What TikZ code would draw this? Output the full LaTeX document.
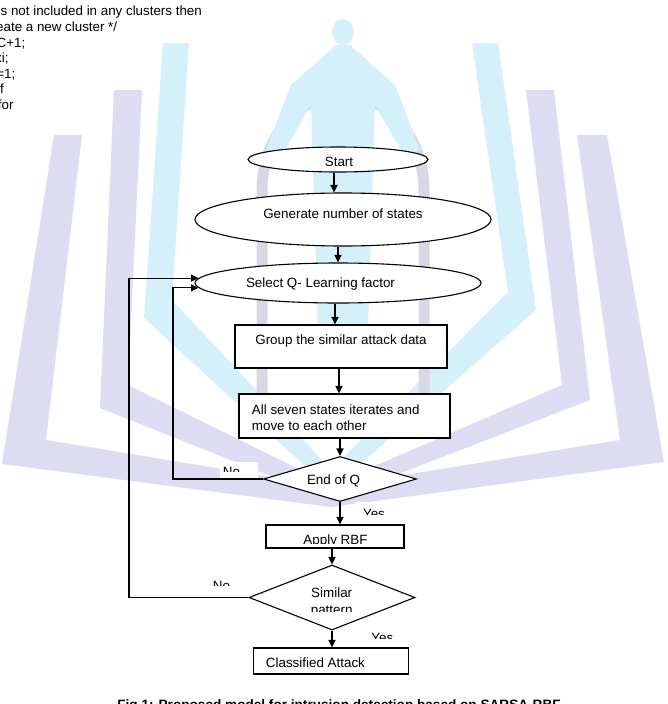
\documentclass[tikz,border=0pt]{standalone}
\usepackage{fontspec}
\setmainfont{Liberation Sans}
\usetikzlibrary{shapes.geometric,arrows.meta}
\definecolor{lav}{RGB}{220,220,243}
\definecolor{cyn}{RGB}{212,240,251}
\definecolor{archc}{RGB}{216,216,228}
\tikzset{
  fc/.style={draw=black, fill=white, line width=1.1pt, inner sep=0pt},
  ell/.style={fc, ellipse},
  box/.style={fc, rectangle},
  dia/.style={fc, diamond},
  arr/.style={draw=black, line width=1.1pt, -{Triangle[length=7.5pt,width=7pt]}},
  lbl/.style={inner sep=0pt, anchor=base, font=\fontsize{13.4}{16}\selectfont},
  lblw/.style={lbl, anchor=base west},
  tl/.style={inner sep=0pt, anchor=base west, font=\fontsize{13.35}{15.5}\selectfont},
}
\begin{document}
\begin{tikzpicture}[x=1pt,y=-1pt]
\useasboundingbox (0,0) rectangle (668,704);
\clip (0,0) rectangle (668,704);
\fill[white] (0,0) rectangle (668,704);
% ---------- watermark ----------
% cyan inner bands
\fill[cyn] (163,43) -- (189,43) -- (172,300) -- (331,470) -- (331,490) -- (144,318) -- cycle;
\fill[cyn] (472,43) -- (498,43) -- (536,310) -- (331,490) -- (331,470) -- (508,292) -- cycle;
% second (purple) bands
\fill[lav] (114,90) -- (142,90) -- (128,385) -- (331,485) -- (331,500) -- (100,408) -- cycle;
\fill[lav] (526,90) -- (554,90) -- (590,400) -- (331,500) -- (331,485) -- (562,385) -- cycle;
% outer (purple) bands
\fill[lav] (54,135) -- (82,135) -- (46,440) -- (331,487) -- (331,507) -- (2,464) -- cycle;
\fill[lav] (577,135) -- (607,135) -- (664,462) -- (331,507) -- (331,487) -- (620,440) -- cycle;
% arch and figure
\draw[archc, line width=11pt] (262,430) -- (262,190) arc[start angle=180, end angle=0, x radius=81pt, y radius=95pt] -- (424,430);
\fill[cyn] (343,32) ellipse[x radius=11pt, y radius=13pt];
\fill[cyn] (336,45) -- (350,45) -- (395,85) -- (420,150) -- (405,157) -- (375,105) -- (368,330) -- (318,330) -- (311,105) -- (281,157) -- (266,150) -- (291,85) -- cycle;
% white label backgrounds
\fill[white] (220,462) rectangle (258,479.3);
\fill[white] (356,502) rectangle (398,518);
% ---------- top-left text fragments ----------
\node[tl] (t0) at (0,0.5) {r.};
\node[tl] (t1) at (0.5,16) {s not included in any clusters then};
\node[tl] (t2) at (-4,31.5) {eate a new cluster */};
\node[tl] (t3) at (-3.5,47) {C+1;};
\node[tl] (t4) at (-5,62.5) {xi;};
\node[tl] (t5) at (-3.9,78) {=1;};
\node[tl] (t6) at (0,93.5) {f};
\node[tl] (t7) at (-2.3,109) {for};
% ---------- flowchart shapes ----------
\node[ell, minimum width=180pt, minimum height=25pt] (start) at (338,159.5) {};
\node[ell, minimum width=296pt, minimum height=53pt] (gen) at (343,219.5) {};
\node[ell, minimum width=286pt, minimum height=40pt] (sel) at (338,283) {};
\node[box, minimum width=212pt, minimum height=43pt] (grp) at (341,346.5) {};
\node[box, minimum width=211pt, minimum height=44pt] (all) at (344.5,416) {};
\node[dia, minimum width=153pt, minimum height=45pt] (endq) at (340,479) {};
\node[box, minimum width=138pt, minimum height=23pt] (rbf) at (335,536.5) {};
\node[dia, minimum width=166pt, minimum height=65pt] (sim) at (332,597.5) {};
\node[box, minimum width=155pt, minimum height=26pt] (cls) at (331,661) {};
% ---------- connectors ----------
\draw[arr] (start.south -| 334,0) -- (gen.north -| 334,0);
\draw[arr] (gen.south -| 338,0) -- (sel.north -| 338,0);
\draw[arr] (sel.south -| 335,0) -- (grp.north -| 335,0);
\draw[arr] (grp.south -| 339,0) -- (all.north -| 339,0);
\draw[arr] (all.south -| endq.north) -- (endq.north);
\draw[arr] (endq.south) -- (rbf.north -| endq.south);
\draw[arr] (rbf.south -| sim.north) -- (sim.north);
\draw[arr] (sim.south) -- (cls.north -| sim.south);
\coordinate (lp1) at (173,0);
\coordinate (lp2) at (129,0);
\draw[arr] (endq.west) -- (endq.west -| lp1) |- (sel.182.07);
\draw[arr] (sim.west) -- (sim.west -| lp2) |- (sel.178.37);
% ---------- texts ----------
\begin{scope}
  \clip (248,140) rectangle (428,165);
  \node[lbl] (tstart) at (339,166.3) {Start};
\end{scope}
\node[lbl] (tgen) at (343,218.3) {Generate number of states};
\node[lbl] (tsel) at (320.5,287.2) {Select Q- Learning factor};
\node[lbl] (tgrp) at (341,344.2) {Group the similar attack data};
\node[lblw] (tall1) at (251.7,414) {All seven states iterates and};
\node[lblw] (tall2) at (251.7,430.2) {move to each other};
\node[lbl] (tendq) at (333.5,484.6) {End of Q};
\begin{scope}
  \clip (215,460) rectangle (260,471.5);
  \node[lbl] (tno1) at (231.5,476.8) {No};
\end{scope}
\begin{scope}
  \clip (355,500) rectangle (400,514);
  \node[lbl] (tyes1) at (374,518.9) {Yes};
\end{scope}
\begin{scope}
  \clip (268,527) rectangle (402,543.3);
  \node[lbl] (trbf) at (335.5,544.6) {Apply RBF};
\end{scope}
\node[lbl] (tsim1) at (331.7,597.9) {Similar};
\begin{scope}
  \clip (290,600) rectangle (375,611);
  \node[lbl] (tsim2) at (331.7,614) {pattern};
\end{scope}
\begin{scope}
  \clip (205,575) rectangle (240,585.7);
  \node[lbl] (tno2) at (221.5,590.3) {No};
\end{scope}
\begin{scope}
  \clip (365,628) rectangle (400,638.3);
  \node[lbl] (tyes2) at (382.3,642.9) {Yes};
\end{scope}
\node[lblw] (tcls) at (265.7,667.7) {Classified Attack};
\node[inner sep=0pt, anchor=base, font=\fontsize{13.6}{16}\selectfont\bfseries] (cap) at (339,709.5) {Fig 1: Proposed model for intrusion detection based on SARSA-RBF};
\end{tikzpicture}
\end{document}
